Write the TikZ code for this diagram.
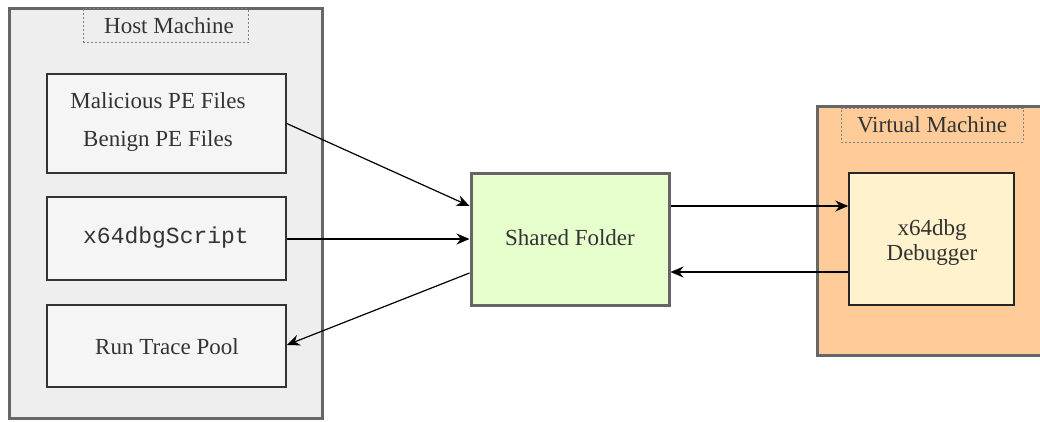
\documentclass[tikz,border=0pt]{standalone}
\usepackage{fontspec}
\setmainfont{Liberation Serif}
\setmonofont{Liberation Mono}
\usetikzlibrary{calc,arrows.meta}
\definecolor{hostfill}{HTML}{EEEEEE}
\definecolor{innerfill}{HTML}{F5F5F5}
\definecolor{sharedfill}{HTML}{E6FFCC}
\definecolor{vmfill}{HTML}{FFCC99}
\definecolor{dbgfill}{HTML}{FFF2CC}
\definecolor{thickgray}{HTML}{666666}
\definecolor{txt}{HTML}{333333}
\begin{document}
\begin{tikzpicture}[x=1pt,y=-1pt,
  container/.style={draw=thickgray,line width=3pt,rectangle,inner sep=0pt},
  innerbox/.style={draw=txt,line width=1.5pt,fill=innerfill,rectangle,inner sep=0pt},
  labelbox/.style={draw=gray,dash pattern=on 2pt off 2pt,line width=0.8pt,rectangle,inner sep=0pt},
  lbl/.style={text=txt,font=\fontsize{23}{25}\selectfont,inner sep=0pt,align=center},
  conn/.style={line width=1.2pt,-{Stealth[length=13pt,width=11pt]}}]
\useasboundingbox (0,0) rectangle (1040,421);
% host machine
\node[container,fill=hostfill,minimum width=313pt,minimum height=410pt] (host) at (166,213) {};
\node[labelbox,minimum width=165pt,minimum height=34pt] (hostlbl) at (165.5,25.5) {};
\node[lbl] (hosttxt) at (169,26) {Host Machine};
\node[innerbox,minimum width=239pt,minimum height=99pt] (files) at (166.5,123.5) {};
\node[lbl] (mal) at (158,101) {Malicious PE Files};
\node[lbl] (ben) at (158,141) {Benign PE Files};
\node[innerbox,minimum width=239pt,minimum height=83pt] (script) at (166.5,238.5) {};
\node[lbl,font=\ttfamily\fontsize{23}{25}\selectfont] (scripttxt) at (166,238) {x64dbgScript};
\node[innerbox,minimum width=239pt,minimum height=82pt] (pool) at (166.5,346) {};
\node[lbl] (pooltxt) at (167,347) {Run Trace Pool};
% shared folder
\node[container,fill=sharedfill,minimum width=198pt,minimum height=132pt] (shared) at (570,239) {};
\node[lbl] (sharedtxt) at (570,238) {Shared Folder};
% virtual machine
\node[container,fill=vmfill,minimum width=226pt,minimum height=249pt] (vm) at (930,230.5) {};
\node[labelbox,minimum width=182pt,minimum height=34pt] (vmlbl) at (932,125) {};
\node[lbl] (vmtxt) at (932,125) {Virtual Machine};
\node[draw=black!85,line width=1.5pt,fill=dbgfill,minimum width=165pt,minimum height=132pt,inner sep=0pt] (dbg) at (931.5,239) {};
\node[lbl] (dbgtxt) at (932,242) {x64dbg\\Debugger};
% connectors
\draw[conn] (files.east) -- ($(shared.west)+(0,-33)$);
\draw[conn] (script.east |- shared.west) -- (shared.west);
\draw[conn] ($(shared.west)+(0,34)$) -- ($(pool.east)+(0,-1)$);
\draw[conn] ($(shared.east)+(0,-33)$) -- ($(dbg.west)+(0,-33)$);
\draw[conn] ($(dbg.west)+(0,33)$) -- ($(shared.east)+(0,33)$);
\end{tikzpicture}
\end{document}
